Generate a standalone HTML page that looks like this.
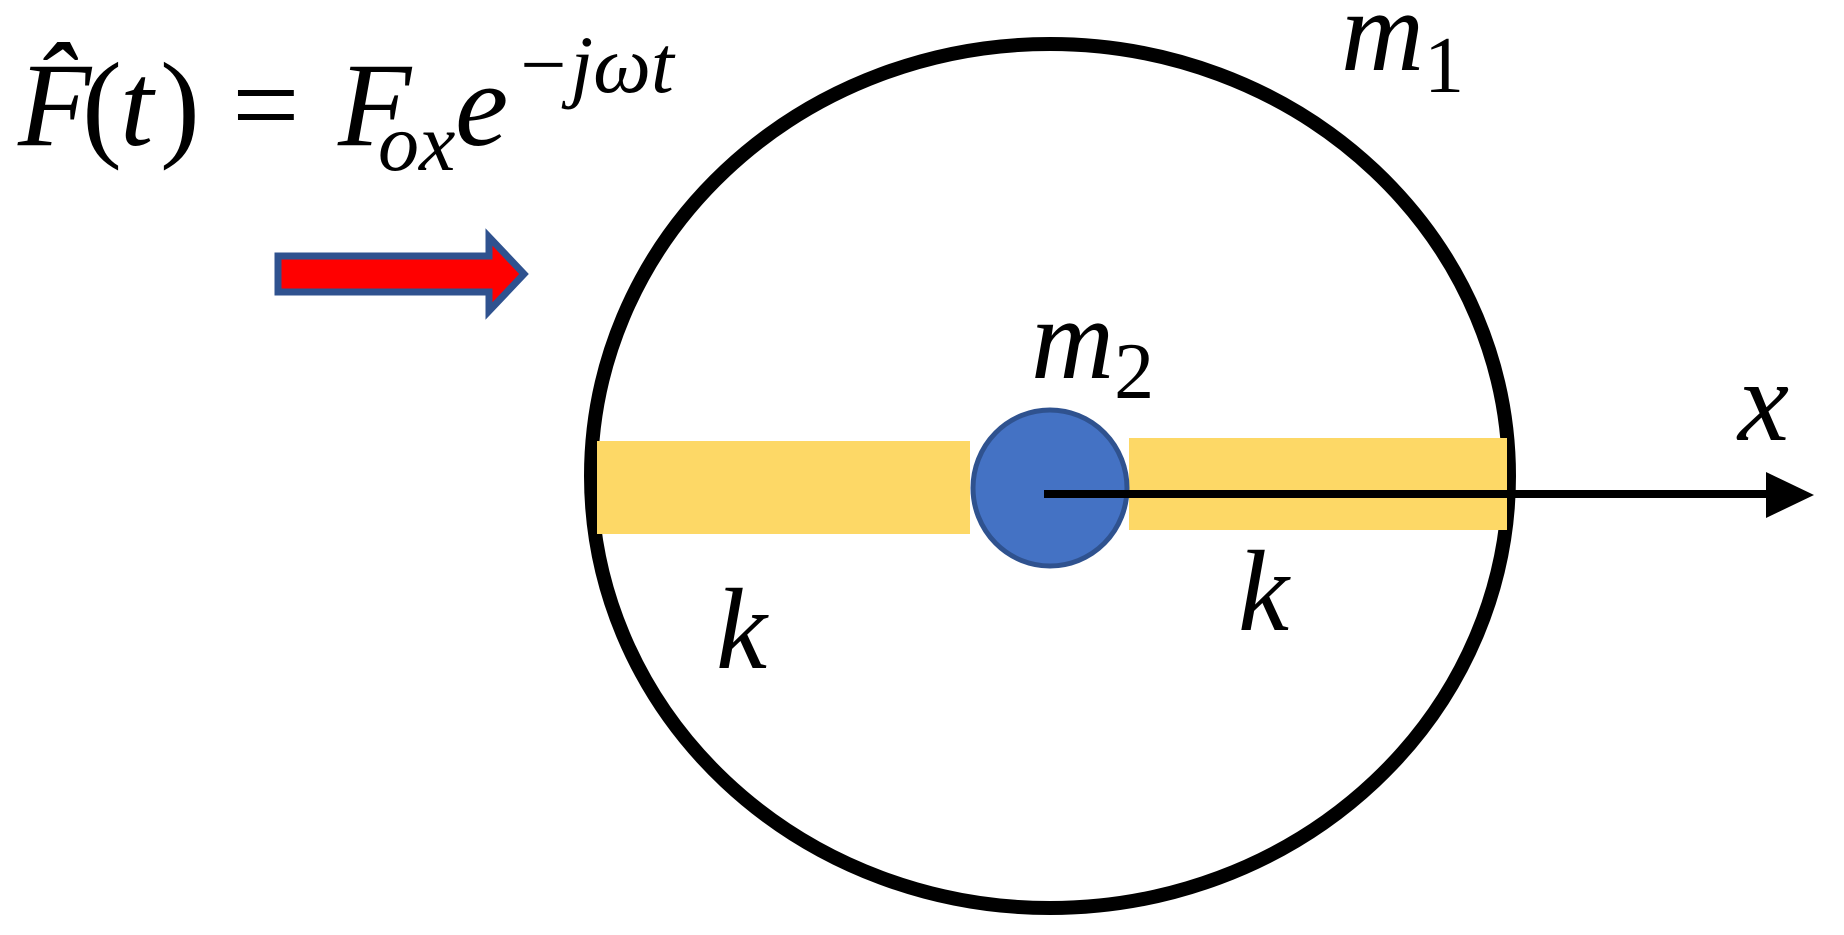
<!DOCTYPE html>
<html><head><meta charset="utf-8"><style>html,body{margin:0;padding:0;background:#fff;}svg{display:block}</style></head>
<body>
<svg width="1844" height="935" viewBox="0 0 1844 935" xmlns="http://www.w3.org/2000/svg" font-family="Liberation Serif, serif" font-style="italic">
<rect width="1844" height="935" fill="#fff"/>
<ellipse cx="1050" cy="476" rx="459" ry="432" fill="none" stroke="#000" stroke-width="14"/>
<rect x="597" y="441" width="373" height="93" fill="#FDD866"/>
<rect x="1129" y="438" width="378" height="92" fill="#FDD866"/>
<ellipse cx="1050" cy="488" rx="77" ry="78" fill="#4472C4" stroke="#2F528F" stroke-width="5"/>
<line x1="1044" y1="494" x2="1770" y2="494" stroke="#000" stroke-width="8"/>
<polygon points="1766,472 1814,495 1766,518" fill="#000"/>
<polygon points="278,256 489,256 489,237 524,274 489,311 489,292 278,292" fill="#ff0000" stroke="#2F528F" stroke-width="7"/>
<text x="18" y="145" font-size="120">F̂</text>
<text x="82" y="145" font-size="120" font-style="normal">(</text>
<text x="120" y="145" font-size="120">t</text>
<text x="160" y="145" font-size="120" font-style="normal">)</text>
<text x="232" y="145" font-size="120" font-style="normal">=</text>
<text x="338" y="145" font-size="120">F</text>
<text x="378" y="170" font-size="82">ox</text>
<text x="455" y="145" font-size="120">e</text>
<text x="515" y="92" font-size="82">−jωt</text>
<text x="1341" y="70" font-size="115">m<tspan font-size="80" font-style="normal" dy="22">1</tspan></text>
<text x="1031" y="378" font-size="115">m<tspan font-size="80" font-style="normal" dy="20">2</tspan></text>
<text x="1738" y="440" font-size="115">x</text>
<text x="716" y="668" font-size="115">k</text>
<text x="1238" y="630" font-size="115">k</text>
</svg>
</body></html>
